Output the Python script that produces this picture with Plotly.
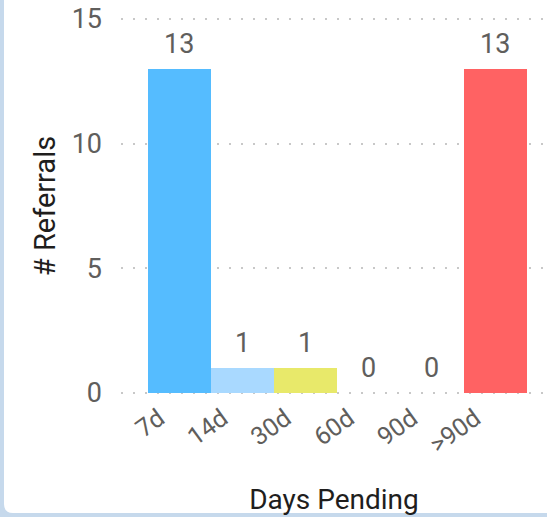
import plotly.graph_objects as go

# data
days = ["7d", "14d", "30d", "60d", "90d", ">90d"]
referrals = [13, 1, 1, 0, 0, 13]
bar_colors = ["#55BCFF", "#A9D9FF", "#E8E96A", "#8ACB88", "#F2C80F", "#FF6263"]

W, H = 547, 517
L, R, T, B = 121, 0, 16, 121
pw, ph = W - L - R, H - T - B


def px_x(p):
    return (p - L) / pw


def px_y(p):
    return (H - B - p) / ph


fig = go.Figure()
fig.add_trace(go.Bar(
    x=days,
    y=referrals,
    marker=dict(color=bar_colors, line=dict(width=0)),
    hoverinfo="x+y",
))

# value labels above each bar
for d, v in zip(days, referrals):
    fig.add_annotation(
        x=d, y=v, text=str(v), showarrow=False,
        yanchor="bottom", yshift=7,
        font=dict(family="Roboto", size=27, color="#605E5C"),
    )

# card background: light blue frame with a rounded bottom-left corner
x0, y0 = px_x(4), px_y(513)
x1, y1 = px_x(W + 20), px_y(-20)
rx, ry = 9 / pw, 9 / ph
card = (f"M {x0},{y1} L {x0},{y0 + ry} Q {x0},{y0} {x0 + rx},{y0} "
        f"L {x1},{y0} L {x1},{y1} Z")
fig.add_shape(type="path", path=card, xref="paper", yref="paper",
              fillcolor="white", line=dict(width=0), layer="below")

fig.update_layout(
    width=W, height=H,
    margin=dict(l=L, r=R, t=T, b=B),
    paper_bgcolor="#C6D9EC",
    plot_bgcolor="rgba(0,0,0,0)",
    bargap=0,
    showlegend=False,
    font=dict(family="Roboto", color="#605E5C"),
    xaxis=dict(
        type="category",
        range=[-0.92, 5.82],
        tickangle=-36,
        tickfont=dict(family="Roboto", size=25, color="#605E5C"),
        showgrid=False, zeroline=False, showline=False,
        ticks="", ticklabelstandoff=2, ticklabelshift=-20,
        title=dict(text="Days Pending", standoff=31,
                   font=dict(family="Roboto", size=28, color="#1F1E1D")),
        automargin=False,
    ),
    yaxis=dict(
        range=[-0.12, 15.12],
        tickvals=[0, 5, 10, 15],
        tickfont=dict(family="Roboto", size=27, color="#605E5C"),
        showgrid=True, gridcolor="#C8C8C8", gridwidth=1.5, griddash="2px,10px",
        zeroline=False, showline=False,
        ticks="", ticklabelstandoff=18,
        title=dict(text="# Referrals", standoff=7,
                   font=dict(family="Roboto", size=29, color="#1F1E1D")),
        automargin=False,
    ),
)

fig.write_html("out.html", config={"displayModeBar": False},
               post_script="document.body.style.margin='0';")
